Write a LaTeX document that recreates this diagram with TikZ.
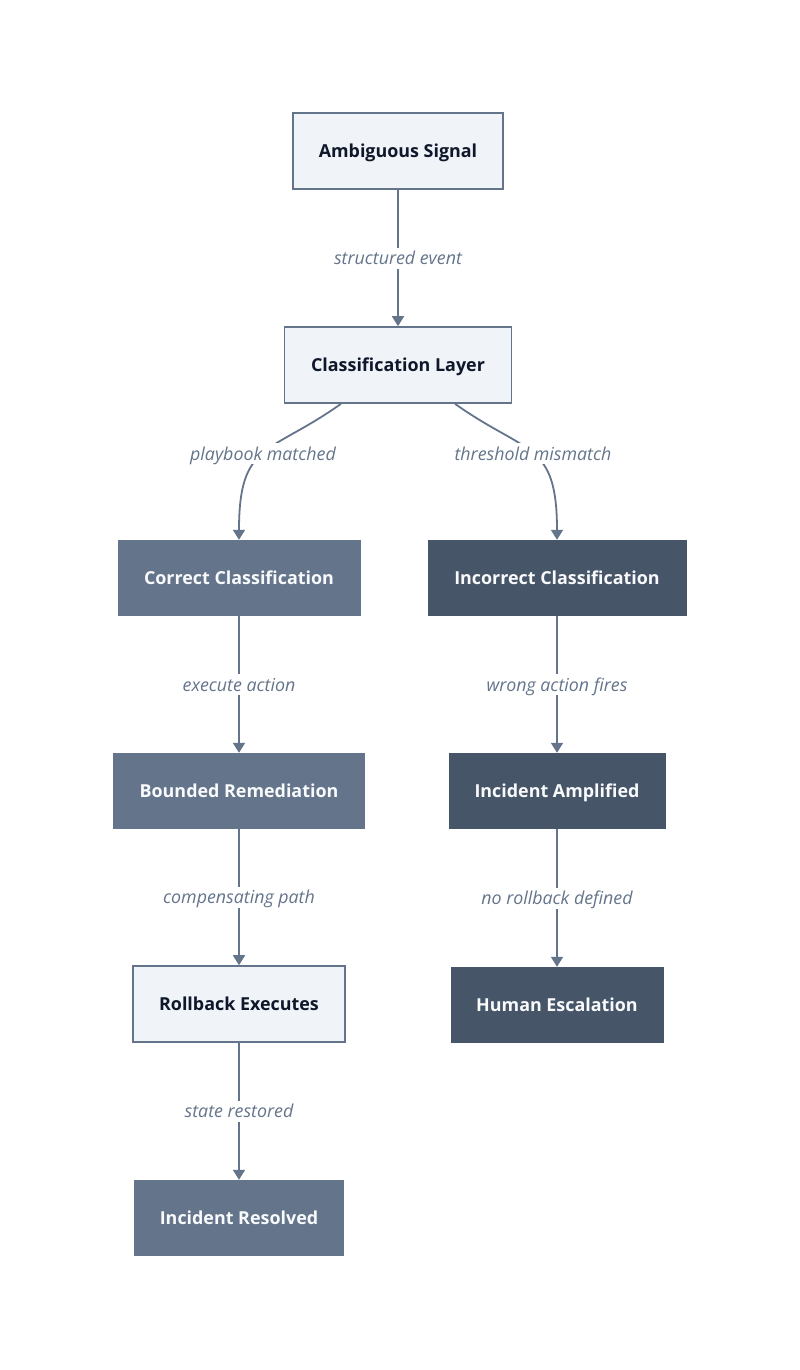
\documentclass[tikz,border=0pt]{standalone}
\usepackage{fontspec}
\setmainfont{Open Sans}
\usetikzlibrary{arrows.meta}
\definecolor{lightslate}{RGB}{240, 244, 248}
\definecolor{midslate}{RGB}{100, 116, 139}
\definecolor{darkslate}{RGB}{71, 85, 105}
\definecolor{inkblue}{RGB}{15, 23, 42}
\definecolor{offwhite}{RGB}{248, 250, 252}

\begin{document}
\begin{tikzpicture}[x=1pt, y=-1pt,
    box/.style={rectangle, minimum height=76pt, inner xsep=0pt, text height=14pt, text depth=1pt,
        font=\fontsize{17.9}{21}\selectfont\bfseries},
    lightbox/.style={box, draw=midslate, line width=1.6pt, fill=lightslate, text=inkblue},
    midbox/.style={box, fill=midslate, text=offwhite},
    darkbox/.style={box, fill=darkslate, text=offwhite},
    flow/.style={draw=midslate, line width=1.8pt, -{Triangle[width=12pt, length=10pt]}},
    lbl/.style={fill=white, text=midslate, inner sep=3pt, text height=14pt, text depth=1pt,
        font=\fontsize{17.8}{21}\selectfont\itshape}]
    \fill[white] (0,0) rectangle (800,1370);
    \useasboundingbox (0,0) rectangle (800,1370);

    % Entry and classification
    \node[lightbox, minimum width=210pt] (amb) at (398, 151) {Ambiguous Signal};
    \node[lightbox, minimum width=227pt] (cls) at (398, 365) {Classification Layer};

    % Left branch: correct path
    \node[midbox, minimum width=243pt] (cor) at (239, 578) {Correct Classification};
    \node[midbox, minimum width=252pt] (bnd) at (239, 791) {Bounded Remediation};
    \node[lightbox, minimum width=212pt] (rbk) at (239, 1004) {Rollback Executes};
    \node[midbox, minimum width=210pt] (res) at (239, 1218) {Incident Resolved};

    % Right branch: wrong path
    \node[darkbox, minimum width=259pt] (inc) at (557, 578) {Incorrect Classification};
    \node[darkbox, minimum width=217pt] (amp) at (557, 791) {Incident Amplified};
    \node[darkbox, minimum width=213pt] (esc) at (557, 1005) {Human Escalation};

    % Connectors
    \draw[flow] (amb) -- node[lbl] {structured event} (cls);
    \draw[flow] ([xshift=-57pt]cls.south) .. controls (269, 455) and (239, 441) .. (cor.north)
        node[pos=0.5, lbl] {playbook matched};
    \draw[flow] ([xshift=57pt]cls.south) .. controls (527, 455) and (557, 441) .. (inc.north)
        node[pos=0.5, lbl] {threshold mismatch};
    \draw[flow] (cor) -- node[lbl] {execute action} (bnd);
    \draw[flow] (bnd) -- node[lbl] {compensating path} (rbk);
    \draw[flow] (rbk) -- node[lbl] {state restored} (res);
    \draw[flow] (inc) -- node[lbl] {wrong action fires} (amp);
    \draw[flow] (amp) -- node[lbl] {no rollback defined} (esc);
\end{tikzpicture}
\end{document}
